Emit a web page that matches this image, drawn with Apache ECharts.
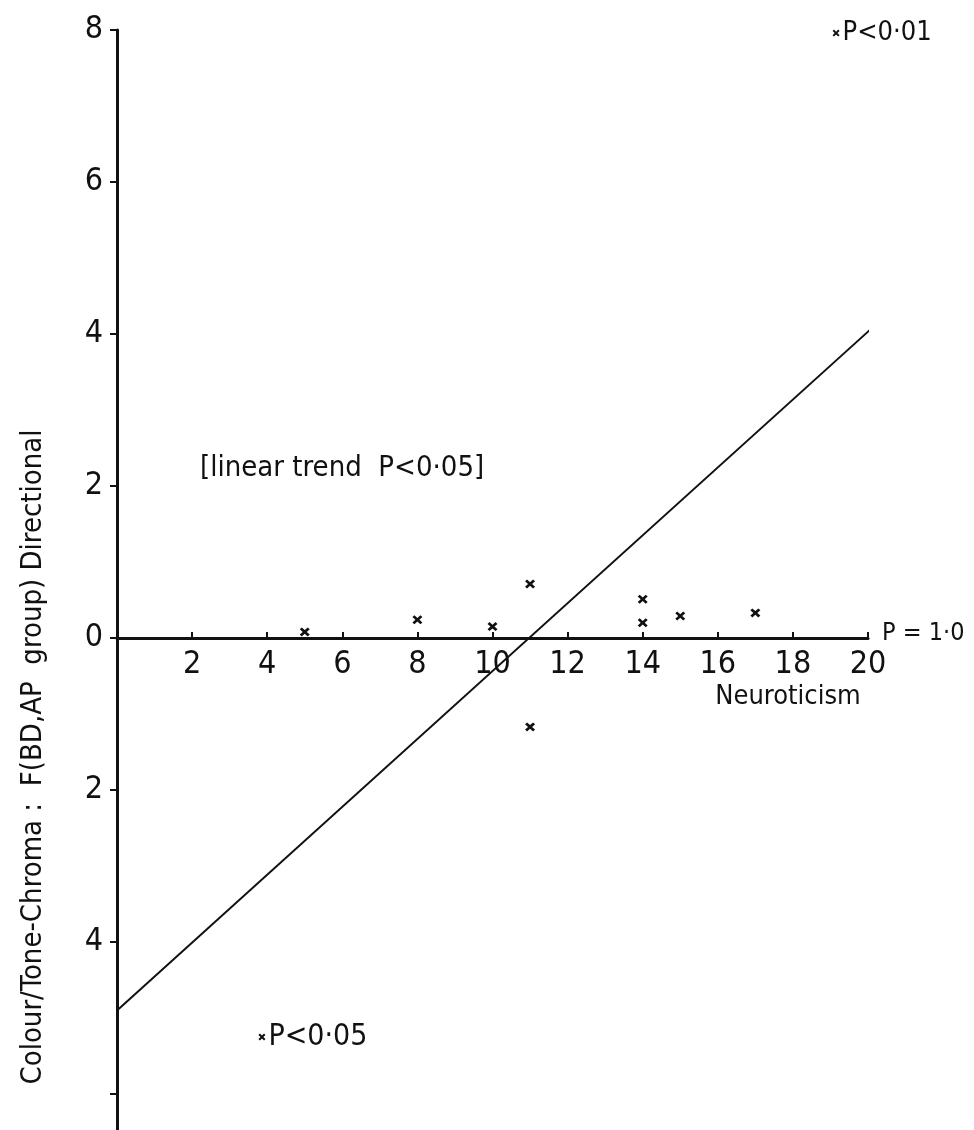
<!DOCTYPE html>
<html>
<head>
<meta charset="utf-8">
<script src="https://cdn.jsdelivr.net/npm/echarts@6/dist/echarts.min.js"></script>
<style>
  html, body { margin: 0; padding: 0; background: #fff; }
  #chart { width: 974px; height: 1130px; }
</style>
</head>
<body>
<div id="chart"></div>
<script>
// ------------------------------
// DATA
// ------------------------------
const neuroX = [5, 8, 10, 11, 11, 14, 14, 15, 17];
const dirF = [0.08, 0.24, 0.15, 0.71, -1.17, 0.51, 0.2, 0.29, 0.33];

// fitted linear trend, end points
const trendX = [0, 20.2];
const trendY = [-4.9, 4.12];

// significance markers drawn on the same scale
const sigLabels = ["P<0·01", "P<0·05"];
const sigX = [19.15, 3.86];
const sigY = [7.96, -5.25];

const yTicks = [-6, -4, -2, 0, 2, 4, 6, 8];
const yMin = -6.5, yMax = 8;

const yName = "Colour/Tone-Chroma :  F(BD,AP  group) Directional";
const xName = "Neuroticism";
const trendNote = "[linear trend  P<0·05]";
const endNote = "P = 1·0";

// ------------------------------
// LAYOUT
// ------------------------------
const GRID_TOP = 30, GRID_H = 1102;
// pull the x axis (with its labels) up from the grid bottom onto y = 0
const xOffset = -GRID_H * (0 - yMin) / (yMax - yMin);

const NARROW = '"Liberation Sans Narrow", "DejaVu Sans Condensed", "Liberation Sans", sans-serif';
const INK = "#111";
const cross = "path://M0,2L2,0L5,3L8,0L10,2L7,5L10,8L8,10L5,7L2,10L0,8L3,5Z";

let yFmt = v => (v === -6 ? "" : String(Math.abs(v)));
let xFmt = v => (v === 0 ? "" : String(v));

let chart = echarts.init(document.getElementById("chart"), null, { renderer: "canvas" });

let option = {
  backgroundColor: "#fff",
  animation: false,
  grid: { left: 117, top: GRID_TOP, width: 751, height: GRID_H, containLabel: false, outerBoundsMode: "none" },
  xAxis: {
    type: "value", min: 0, max: 20, interval: 2, position: "bottom", offset: xOffset,
    axisLine: { onZero: false, lineStyle: { color: INK, width: 3 } },
    axisTick: { inside: true, length: 6, lineStyle: { color: INK, width: 2 } },
    axisLabel: { margin: 11, color: INK, fontFamily: NARROW, fontSize: 32, formatter: xFmt },
    splitLine: { show: false }
  },
  yAxis: {
    type: "value", min: yMin, max: yMax, position: "left",
    axisLine: { onZero: false, lineStyle: { color: INK, width: 3 } },
    axisTick: { inside: false, length: 7, customValues: yTicks, lineStyle: { color: INK, width: 2 } },
    axisLabel: { margin: 14, color: INK, fontFamily: NARROW, fontSize: 32, customValues: yTicks, formatter: yFmt },
    splitLine: { show: false }
  },
  series: [
    {
      name: "trend", type: "line", clip: false, symbol: "none",
      data: trendX.map((x, i) => [x, trendY[i]]),
      lineStyle: { color: INK, width: 2 }
    },
    {
      name: "subjects", type: "scatter", symbol: cross, symbolSize: [10, 9],
      data: neuroX.map((x, i) => [x, dirF[i]]),
      itemStyle: { color: INK, opacity: 1 }
    },
    {
      name: "sig", type: "scatter", symbol: cross, symbolSize: [7, 7], clip: false,
      data: sigX.map((x, i) => ({
        value: [x, sigY[i]], name: sigLabels[i],
        label: { fontSize: i === 0 ? 27 : 30 }
      })),
      itemStyle: { color: INK, opacity: 1 },
      label: {
        show: true, position: "right", distance: 3, formatter: p => p.name,
        color: INK, fontFamily: NARROW, fontSize: 30
      }
    }
  ],
  graphic: [
    {
      type: "text", x: 33, y: 757, rotation: Math.PI / 2,
      style: { text: yName, align: "center", verticalAlign: "middle", fill: INK,
               font: '29px "DejaVu Sans Condensed", "DejaVu Sans", sans-serif' }
    },
    {
      type: "text", x: 788, y: 697,
      style: { text: xName, align: "center", verticalAlign: "middle", fill: INK,
               font: "27px " + NARROW }
    },
    {
      type: "text", x: 200, y: 468,
      style: { text: trendNote, align: "left", verticalAlign: "middle", fill: INK,
               font: "29px " + NARROW }
    },
    {
      type: "text", x: 882, y: 633,
      style: { text: endNote, align: "left", verticalAlign: "middle", fill: INK,
               font: "25px " + NARROW }
    }
  ]
};

chart.setOption(option);
</script>
</body>
</html>
